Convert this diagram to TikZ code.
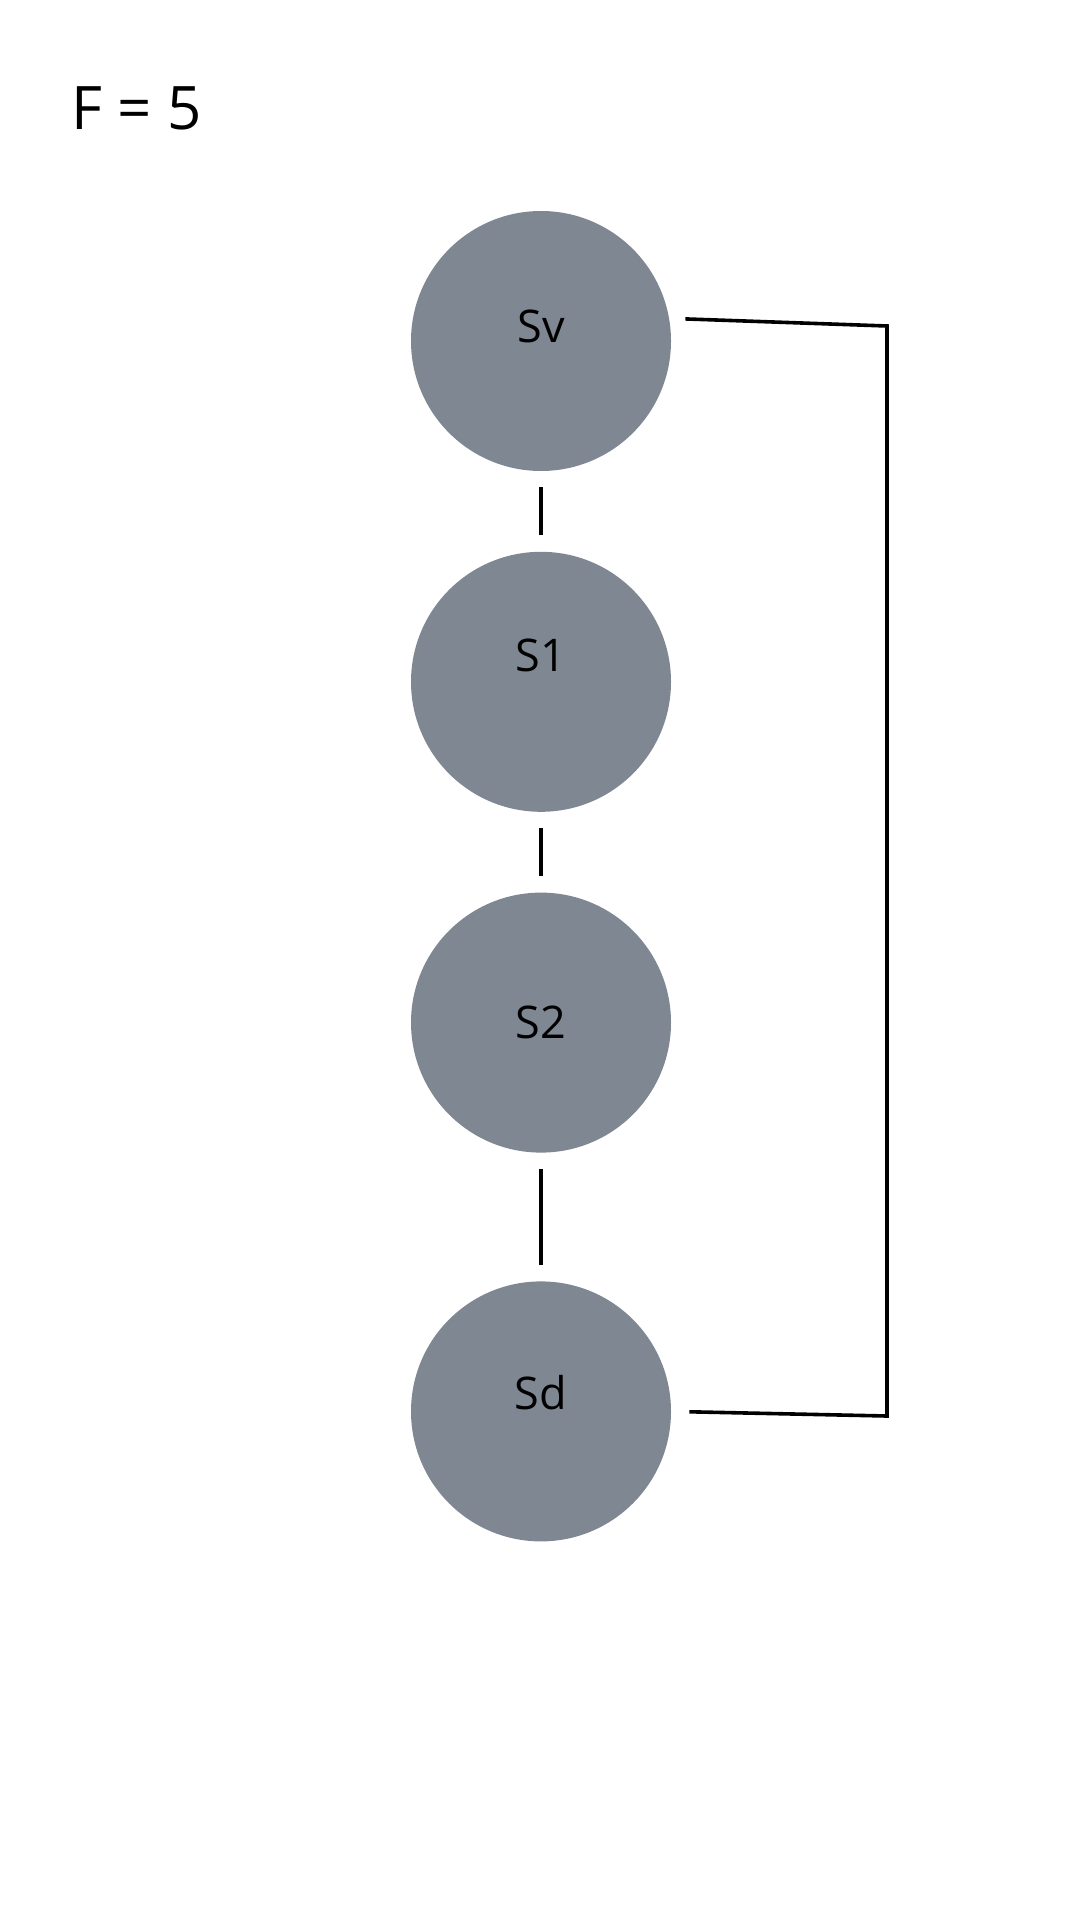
\documentclass[tikz,border=0pt]{standalone}
\usepackage{fontspec}
\setmainfont{Open Sans}
\usepackage{tikz}
\usetikzlibrary{positioning}
\tikzstyle{pixelGrid} = [x = 0.5pt, y = -0.5pt]
\definecolor{stateColor}{RGB}{126,135,146}
\tikzstyle{stateStyle} = [circle, fill=stateColor, minimum size=130pt, inner sep=0pt]
\tikzstyle{stateText} = [font=\fontsize{22.5}{22.5}\selectfont, anchor=base, inner sep=0pt]
\tikzstyle{titleText} = [font=\fontsize{30}{30}\selectfont, anchor=base west, inner sep=0pt]
\tikzstyle{linkLine} = [color=black, line width=1.8pt, shorten <=8pt, shorten >=8pt]
\tikzstyle{loopLine} = [color=black, line width=1.8pt, shorten <=8pt, shorten >=9pt]
\newcommand{\stateLabel}[3]{\node [stateText] (#1Text) at ([yshift=#3]#1.center) {#2};}

\begin{document}
\begin{tikzpicture}[pixelGrid]
      \useasboundingbox (0,0) rectangle (1080,1920);
      \node [titleText] (title) at (71,130) {F = 5};

      \node [stateStyle] (sv) at (541,341) {};
      \node [stateStyle, below = 40pt of sv] (s1) {};
      \node [stateStyle, below = 40pt of s1] (s2) {};
      \node [stateStyle, below = 64pt of s2] (sd) {};
      \stateLabel{sv}{Sv}{-1pt}
      \stateLabel{s1}{S1}{5pt}
      \stateLabel{s2}{S2}{-8pt}
      \stateLabel{sd}{Sd}{1pt}

      \draw [linkLine] (sv) -- (s1);
      \draw [linkLine] (s1) -- (s2);
      \draw [linkLine] (s2) -- (sd);

      \coordinate (loopTop) at (887,326);
      \coordinate (loopBottom) at (887,1416);
      \draw [loopLine] (sv.10) -- (loopTop) -- (loopBottom) -- (sd.east);
    \end{tikzpicture}
\end{document}
